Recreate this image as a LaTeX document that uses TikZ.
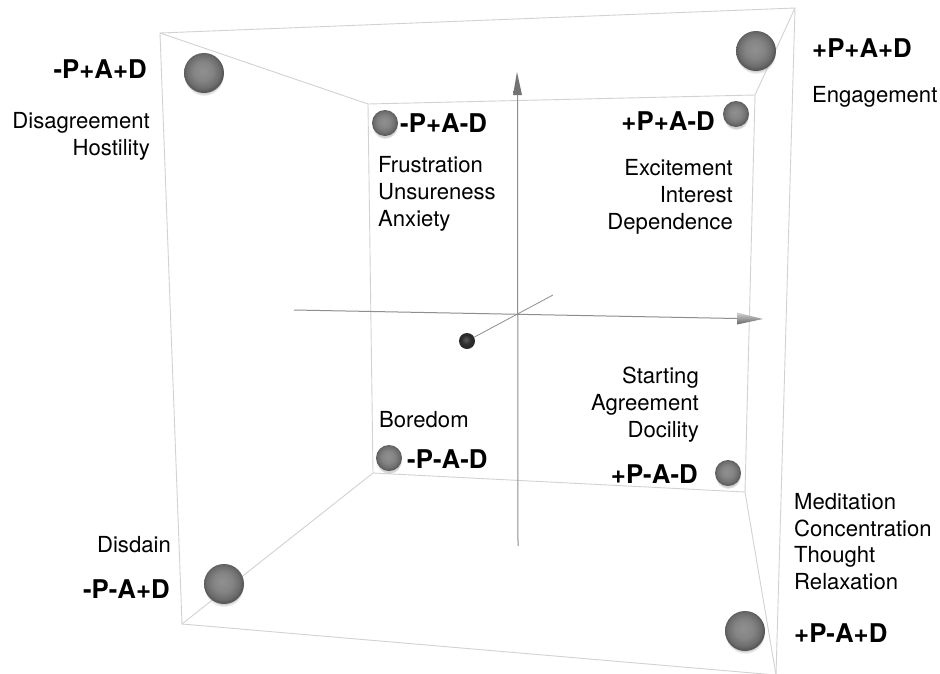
\documentclass[tikz,border=0pt]{standalone}
\usepackage{fontspec}
\setmainfont{TeX Gyre Heros}
\usetikzlibrary{shadows}

\definecolor{edgegray}{HTML}{D2D2D2}
\definecolor{axisgray}{HTML}{8E8E8E}
\definecolor{sphA}{HTML}{909090}
\definecolor{sphB}{HTML}{848484}
\definecolor{sphC}{HTML}{6C6C6C}
\definecolor{sphD}{HTML}{575757}
\definecolor{dotA}{HTML}{5A5A5A}
\definecolor{dotB}{HTML}{2A2A2A}

% soft grey sphere and the small dark origin sphere
\pgfdeclareradialshading{sphere}{\pgfpoint{-2bp}{3bp}}{color(0bp)=(sphA); color(12bp)=(sphB); color(21bp)=(sphC); color(25bp)=(sphD); color(50bp)=(sphD)}
\pgfdeclareradialshading{darkorb}{\pgfpoint{-4bp}{5bp}}{color(0bp)=(dotA); color(16bp)=(dotB); color(25bp)=(dotB); color(50bp)=(dotB)}

\tikzset{
  edge/.style={draw=edgegray, line width=0.9pt},
  axisline/.style={draw=axisgray, line width=1pt},
  orb/.style={circle, inner sep=0pt, minimum size=#1, shade, shading=sphere,
    circular drop shadow={shadow xshift=0pt, shadow yshift=-3pt, shadow scale=1.0, opacity=0.35}},
  dot/.style={circle, inner sep=0pt, minimum size=16pt, shade, shading=darkorb},
  code/.style={inner sep=0pt, font=\fontsize{25.8}{30}\selectfont\bfseries},
  word/.style={inner sep=0pt, font=\fontsize{22.1}{27}\selectfont},
}

\begin{document}
\begin{tikzpicture}[x=1pt, y=-1pt]
\useasboundingbox (0,0) rectangle (940,673);
\fill[white] (0,0) rectangle (940,673);

% cube corners: front face (f..) and back face (b..)
\coordinate (ftl) at (160,33);
\coordinate (ftr) at (795,8);
\coordinate (fbl) at (182,624);
\coordinate (fbr) at (776,675);
\coordinate (btl) at (368,104);
\coordinate (btr) at (755,95);
\coordinate (bbl) at (373,473);
\coordinate (bbr) at (745,492);

\begin{scope}
\clip (0,0) rectangle (940,673);
\draw[edge] (ftl) -- (ftr) -- (fbr) -- (fbl) -- cycle;
\draw[edge] (btl) -- (btr) -- (bbr) -- (bbl) -- cycle;
\draw[edge] (ftl) -- (btl);
\draw[edge] (ftr) -- (btr);
\draw[edge] (fbl) -- (bbl);
\draw[edge] (fbr) -- (bbr);
\end{scope}

% axes
\coordinate (vtip) at (517,72);
\coordinate (vbase) at (517.5,95);
\coordinate (vbot) at (518,546);
\coordinate (hleft) at (294,310);
\coordinate (hbase) at (737,318.5);
\coordinate (htip) at (763,319);
\coordinate (dend) at (553,295);

\draw[axisline] (vbot) -- (vbase);
\draw[axisline] (hleft) -- (hbase);
\shade[left color=gray!90!black, middle color=gray!35, right color=gray!90!black]
  (vtip) -- (522,95) -- (513,95) -- cycle;
\shade[top color=gray!35, middle color=gray!60, bottom color=gray!80!black]
  (htip) -- (737,312.5) -- (737,324.5) -- cycle;

\node[dot] (origin) at (467,341) {};
\draw[axisline, line width=0.8pt] (origin) -- (dend);

% spheres at the cube corners
\node[orb=40pt] (mpp) at (204,73) {};
\node[orb=40pt] (ppp) at (756,51) {};
\node[orb=26pt] (mpm) at (385,123) {};
\node[orb=26pt] (ppm) at (736,114) {};
\node[orb=26pt] (mmm) at (389,458) {};
\node[orb=26pt] (pmm) at (728,473) {};
\node[orb=40pt] (mmp) at (224,584) {};
\node[orb=40pt] (pmp) at (745,631) {};

% octant codes
\node[code, anchor=base east] (lmpp) at (147,78) {-P+A+D};
\node[code, anchor=base west] (lppp) at (812,57) {+P+A+D};
\node[code, anchor=base west] (lmpm) at (400,132) {-P+A-D};
\node[code, anchor=base east] (lppm) at (715,130) {+P+A-D};
\node[code, anchor=base west] (lmmm) at (407,468) {-P-A-D};
\node[code, anchor=base east] (lpmm) at (698,483) {+P-A-D};
\node[code, anchor=base east] (lmmp) at (170,598) {-P-A+D};
\node[code, anchor=base west] (lpmp) at (794,642) {+P-A+D};

% emotion words
\node[word, anchor=base east] (w1) at (150,128) {Disagreement};
\node[word, anchor=base east] (w2) at (150,155) {Hostility};
\node[word, anchor=base west] (w3) at (378,172) {Frustration};
\node[word, anchor=base west] (w4) at (378,199) {Unsureness};
\node[word, anchor=base west] (w5) at (378,226) {Anxiety};
\node[word, anchor=base east] (w6) at (733,175) {Excitement};
\node[word, anchor=base east] (w7) at (733,202) {Interest};
\node[word, anchor=base east] (w8) at (733,229) {Dependence};
\node[word, anchor=base west] (w9) at (812,102) {Engagement};
\node[word, anchor=base west] (w10) at (379,427) {Boredom};
\node[word, anchor=base east] (w11) at (171,552) {Disdain};
\node[word, anchor=base east] (w12) at (699,383) {Starting};
\node[word, anchor=base east] (w13) at (699,410) {Agreement};
\node[word, anchor=base east] (w14) at (699,437) {Docility};
\node[word, anchor=base west] (w15) at (794,509) {Meditation};
\node[word, anchor=base west] (w16) at (794,536) {Concentration};
\node[word, anchor=base west] (w17) at (794,562) {Thought};
\node[word, anchor=base west] (w18) at (794,589) {Relaxation};
\end{tikzpicture}
\end{document}
